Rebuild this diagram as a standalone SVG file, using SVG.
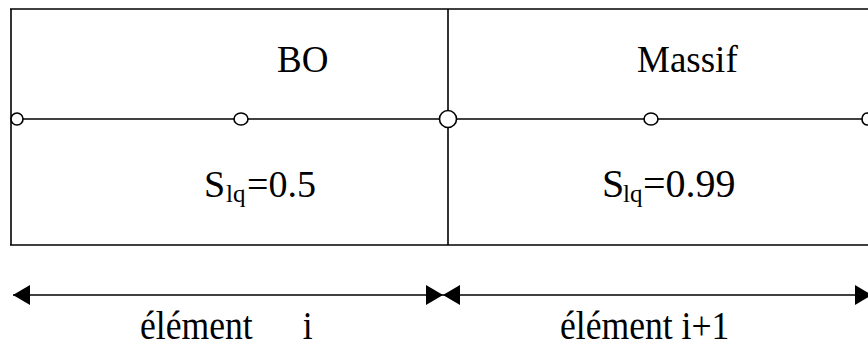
<svg xmlns="http://www.w3.org/2000/svg" width="868" height="348" viewBox="0 0 868 348">
<defs>
<style>
.ln{stroke:#000;stroke-width:1.6;fill:none}
.nd{stroke:#000;stroke-width:1.6;fill:#fff}
.t{font-family:"Liberation Serif","Times New Roman",serif;fill:#000}
</style>
<marker id="ah" viewBox="0 0 17 20" refX="17" refY="10" markerWidth="17" markerHeight="20" markerUnits="userSpaceOnUse" orient="auto-start-reverse">
<path d="M0,0 L17,10 L0,20 z" fill="#000"/>
</marker>
</defs>
<rect width="868" height="348" fill="#fff"/>
<g id="frame">
<line class="ln" x1="10" y1="9" x2="868" y2="9" stroke-width="2"/>
<line class="ln" x1="11" y1="9" x2="11" y2="245"/>
<line class="ln" x1="10" y1="245" x2="868" y2="245" stroke-width="2"/>
<line class="ln" x1="448" y1="9" x2="448" y2="245"/>
</g>
<g id="connectors">
<line class="ln" x1="11" y1="119" x2="868" y2="119"/>
<line class="ln" x1="13" y1="295" x2="443" y2="295" marker-start="url(#ah)" marker-end="url(#ah)"/>
<line class="ln" x1="443" y1="295" x2="872" y2="295" marker-start="url(#ah)" marker-end="url(#ah)"/>
</g>
<g id="node-left"><ellipse class="nd" cx="17" cy="119" rx="6" ry="6"/></g>
<g id="node-bo"><ellipse class="nd" cx="241" cy="119" rx="7" ry="6"/></g>
<g id="node-mid"><circle class="nd" cx="448" cy="119" r="8.5" stroke-width="2.4"/></g>
<g id="node-massif"><ellipse class="nd" cx="651" cy="119" rx="7" ry="6"/></g>
<g id="node-right"><ellipse class="nd" cx="867" cy="119" rx="5" ry="6"/></g>
<g id="label-bo"><text class="t" x="277" y="72" font-size="37">BO</text></g>
<g id="label-massif"><text class="t" x="637" y="72" font-size="37">Massif</text></g>
<g id="label-s1"><text class="t" y="197" font-size="38"><tspan x="204">S</tspan><tspan x="226" y="202" font-size="25">lq</tspan><tspan x="247" y="197">=0.5</tspan></text></g>
<g id="label-s2"><text class="t" y="197" font-size="40"><tspan x="602">S</tspan><tspan x="623" y="202" font-size="25">lq</tspan><tspan x="643" y="197">=0.99</tspan></text></g>
<g id="label-el1"><text class="t" font-size="40" transform="matrix(0.89,0,0,1,140,339)"><tspan x="0">élément</tspan><tspan x="173"> i</tspan></text></g>
<g id="label-el2"><text class="t" font-size="40" transform="matrix(0.89,0,0,1,560,339)">élément i+1</text></g>
</svg>
